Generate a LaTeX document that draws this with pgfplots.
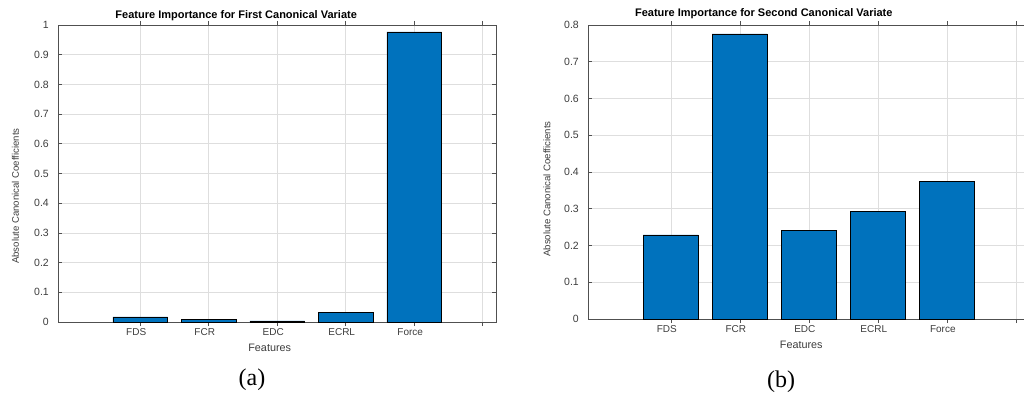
\documentclass[border=0pt]{standalone}
\usepackage{pgfplots}
\pgfplotsset{compat=1.18}
\usepackage{fontspec}
\setmainfont{Liberation Sans}
\newfontfamily\capfont{Liberation Serif}

\definecolor{barblue}{RGB}{0,114,189}
\definecolor{axgray}{RGB}{80,80,80}
\definecolor{txtgray}{RGB}{60,60,60}
\definecolor{gridgray}{RGB}{222,222,222}

\pgfplotsset{
  canonstyle/.style={
    scale only axis,
    anchor=south west,
    xmin=-0.2, xmax=6.2,
    ymin=0,
    xtick={1,...,6},
    xticklabels={FDS,FCR,EDC,ECRL,Force,{}},
    ytick distance=0.1,
    grid=major,
    major grid style={gridgray, line width=0.6pt},
    axis line style={axgray, line width=0.8pt},
    tick align=inside,
    major tick length=4pt,
    tick style={axgray, line width=0.6pt},
    tick label style={text=txtgray},
    /pgf/number format/assume math mode=true,
    /pgf/number format/fixed,
    /pgf/number format/precision=1,
    yticklabel style={font=\fontsize{10.5}{12}\selectfont, anchor=east, inner sep=0pt, xshift=-9pt},
    xticklabel style={font=\fontsize{10}{12}\selectfont, anchor=base, inner sep=0pt, yshift=-9.5pt, xshift=-4pt},
    title style={font=\bfseries\fontsize{11}{13}\selectfont, anchor=base, inner sep=0pt},
    xlabel style={font=\fontsize{10.8}{13}\selectfont, text=txtgray, anchor=base, inner sep=0pt},
    ylabel style={font=\fontsize{9.6}{11}\selectfont, text=txtgray, anchor=center, inner sep=0pt},
    xlabel=Features,
    ylabel=Absolute Canonical Coefficients,
    ybar, bar width=0.8,
  },
}

\begin{document}
\begin{tikzpicture}

% First canonical variate
\begin{axis}[canonstyle,
  at={(58pt,74pt)}, width=438.4pt, height=297pt,
  ymax=1,
  title={Feature Importance for First Canonical Variate},
  title style={at={(axis description cs:0.5,1)}, yshift=0pt, xshift=-41pt},
  xlabel style={at={(axis description cs:0.5,0)}, yshift=-29.5pt, xshift=-7.5pt},
  ylabel style={at={(axis description cs:-0.097,0.424)}},
]
\addplot[fill=barblue, draw=black, line width=0.6pt] coordinates {
  (1,0.017) (2,0.009) (3,0.004) (4,0.033) (5,0.977)
};
\end{axis}

% Second canonical variate
\begin{axis}[canonstyle,
  at={(588pt,77pt)}, width=441.6pt, height=294pt,
  ymax=0.8,
  title={Feature Importance for Second Canonical Variate},
  title style={at={(axis description cs:0.5,1)}, yshift=2.5pt, xshift=-45pt},
  xlabel style={at={(axis description cs:0.5,0)}, yshift=-29.5pt, xshift=-7.5pt},
  ylabel style={at={(axis description cs:-0.093,0.442)}},
]
\addplot[fill=barblue, draw=black, line width=0.6pt] coordinates {
  (1,0.229) (2,0.776) (3,0.241) (4,0.293) (5,0.375)
};
\end{axis}

\node[font=\capfont\fontsize{24}{28}\selectfont] at (252pt,16pt) {(a)};
\node[font=\capfont\fontsize{24}{28}\selectfont] at (781pt,14pt) {(b)};

\pgfresetboundingbox
\useasboundingbox (0pt,0pt) rectangle (1024pt,396pt);
\end{tikzpicture}
\end{document}
